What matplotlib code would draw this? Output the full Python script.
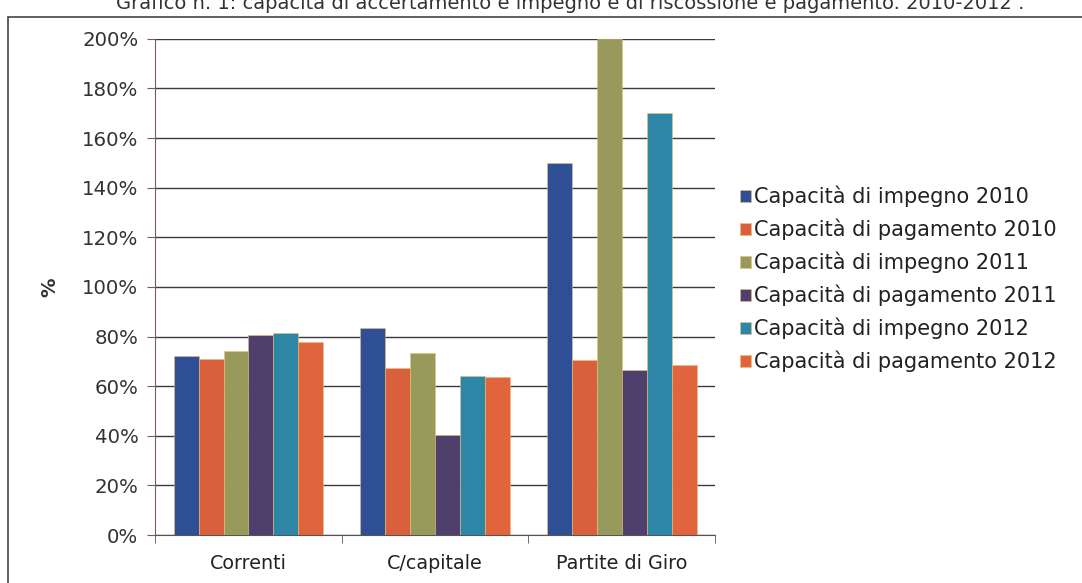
import matplotlib.pyplot as plt
import numpy as np
from matplotlib.patches import Rectangle
from matplotlib.ticker import FuncFormatter

CATEGORIES = ["Correnti", "C/capitale", "Partite di Giro"]
SERIES_NAMES = [
    "Capacità di impegno 2010",
    "Capacità di pagamento 2010",
    "Capacità di impegno 2011",
    "Capacità di pagamento 2011",
    "Capacità di impegno 2012",
    "Capacità di pagamento 2012",
]
IMPEGNO_2010 = [72, 83.5, 150]
PAGAMENTO_2010 = [71, 67.5, 70.5]
IMPEGNO_2011 = [74, 73.5, 200]
PAGAMENTO_2011 = [80.5, 40.5, 66.5]
IMPEGNO_2012 = [81.5, 64, 170]
PAGAMENTO_2012 = [78, 63.5, 68.5]
COLORS = ["#2e4f96", "#d8603c", "#989a5c", "#4e3f6c", "#2d86a6", "#e0643c"]
TITLE = "Grafico n. 1: capacità di accertamento e impegno e di riscossione e pagamento. 2010-2012 ."

plt.rcParams["font.family"] = ["DejaVu Sans"]

series = [IMPEGNO_2010, PAGAMENTO_2010, IMPEGNO_2011, PAGAMENTO_2011, IMPEGNO_2012, PAGAMENTO_2012]

fig = plt.figure(figsize=(10.82, 5.83), dpi=100)
fig.patch.set_facecolor("white")
ax = fig.add_axes([0.1433, 0.0823, 0.5177, 0.851])

x = np.arange(len(CATEGORIES))
width = 0.8 / len(series)
for i, (name, values) in enumerate(zip(SERIES_NAMES, series)):
    offset = (i - (len(series) - 1) / 2) * width
    ax.bar(x + offset, values, width, color=COLORS[i], label=name, zorder=3,
           edgecolor="#e8c070", linewidth=0.4)

ax.set_xlim(-0.5, len(CATEGORIES) - 0.5)
ax.set_ylim(0, 200)
ax.set_yticks(np.arange(0, 201, 20))
ax.yaxis.set_major_formatter(FuncFormatter(lambda v, _: f"{int(v)}%"))
ax.set_xticks(x)
ax.set_xticklabels(CATEGORIES)
ax.set_xticks(np.arange(-0.5, len(CATEGORIES), 1), minor=True)
ax.tick_params(axis="x", which="major", length=0, pad=14, labelsize=13.8, labelcolor="#222222")
ax.tick_params(axis="x", which="minor", length=6, color="#555555")
ax.tick_params(axis="y", length=6, color="#7a5a60", labelsize=14.2, labelcolor="#333333", pad=6)
ax.grid(axis="y", color="#3a3a3a", linewidth=1.0, zorder=0)
for side in ("top", "right"):
    ax.spines[side].set_visible(False)
ax.spines["left"].set_color("#7a5a60")
ax.spines["bottom"].set_color("#555555")
ax.set_ylabel("%", fontsize=14, fontweight="bold", color="#333333", labelpad=16)

ax.legend(loc="center left", bbox_to_anchor=(1.01, 0.516), frameon=False,
          fontsize=15, handlelength=0.55, handleheight=0.55, handletextpad=0.15,
          labelspacing=0.55, labelcolor="#222222")

fig.patches.append(Rectangle((8 / 1082, -0.1), 1.5, 1 - 17 / 583 + 0.1,
                             transform=fig.transFigure, fill=False,
                             edgecolor="#444444", linewidth=1.2))
fig.text(0.527, 1 - 3 / 583, TITLE, ha="center", va="center", fontsize=14, color="#333333")

fig.savefig("out.png", dpi=100)
